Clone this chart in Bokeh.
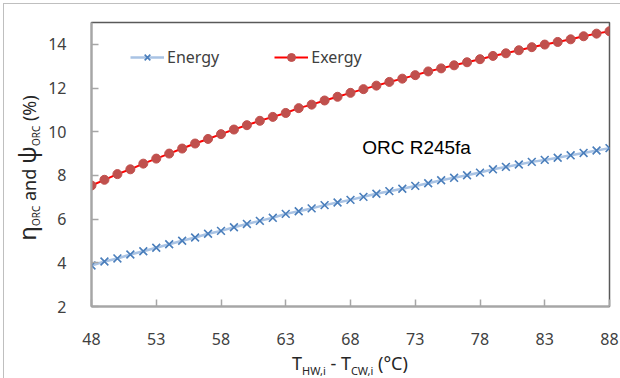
from bokeh.plotting import figure
from bokeh.models import (Range1d, FixedTicker, Legend, LegendItem, Label, Div)
from bokeh.layouts import row, column
from bokeh.embed import file_html
from bokeh.resources import INLINE

# ---------------- data ----------------
dT = list(range(48, 89))  # T_HW,i - T_CW,i (°C)
energy = [3.88, 4.06, 4.20, 4.38, 4.53, 4.69, 4.85, 5.01, 5.16, 5.33,
          5.46, 5.63, 5.78, 5.92, 6.06, 6.24, 6.36, 6.49, 6.64, 6.76,
          6.88, 7.02, 7.16, 7.28, 7.39, 7.52, 7.64, 7.78, 7.89, 8.01,
          8.13, 8.28, 8.39, 8.50, 8.62, 8.71, 8.81, 8.92, 9.03, 9.14, 9.25]
exergy = [7.54, 7.80, 8.06, 8.28, 8.54, 8.77, 9.00, 9.23, 9.46, 9.67,
          9.89, 10.10, 10.30, 10.50, 10.68, 10.86, 11.08, 11.24, 11.43, 11.60,
          11.78, 11.95, 12.11, 12.28, 12.43, 12.59, 12.76, 12.90, 13.04, 13.18,
          13.32, 13.47, 13.59, 13.73, 13.87, 13.99, 14.11, 14.23, 14.37, 14.49, 14.60]
x_ticks = [48, 53, 58, 63, 68, 73, 78, 83, 88]
y_ticks = [2, 4, 6, 8, 10, 12, 14]

FONT = "Noto Sans"
TC = "#262626"

# ---------------- figure ----------------
YDIV_W = 40
PW, PH = 576, 346
p = figure(width=PW, height=PH, output_backend="svg", toolbar_location=None,
           x_range=Range1d(48, 88), y_range=Range1d(2, 15),
           min_border_left=47, min_border_right=11, min_border_top=18,
           min_border_bottom=44, margin=0)
p.background_fill_color = "white"
p.border_fill_color = "white"
p.xgrid.visible = False
p.ygrid.visible = False
p.outline_line_color = "#595959"
p.outline_line_width = 1.5

for ax, ticks in ((p.xaxis[0], x_ticks), (p.yaxis[0], y_ticks)):
    ax.ticker = FixedTicker(ticks=ticks)
    ax.axis_line_color = "#a6a6a6"
    ax.axis_line_width = 2
    ax.major_tick_line_color = "#a6a6a6"
    ax.major_tick_line_width = 1.5
    ax.major_tick_in = 7
    ax.major_tick_out = 0
    ax.minor_tick_line_color = None
    ax.major_label_text_font = FONT
    ax.major_label_text_font_size = "16px"
    ax.major_label_text_color = "#404040"
p.xaxis[0].major_label_standoff = 26
p.yaxis[0].major_label_standoff = 25

# series
e_line = p.line(dT, energy, line_color="#a9c3e4", line_width=2.5)
e_mark = p.scatter(dT, energy, marker="x", size=11, line_color="#4a7ebb",
                   line_width=1.6)
x_line = p.line(dT, exergy, line_color="#ff0000", line_width=2)
x_mark = p.scatter(dT, exergy, marker="circle", size=9, fill_color="#c0504d",
                   line_color="#c0504d")

legend = Legend(items=[LegendItem(label="Energy", renderers=[e_line, e_mark]),
                       LegendItem(label="Exergy", renderers=[x_line, x_mark])],
                orientation="horizontal", location=(39, 238),
                glyph_width=34, glyph_height=20, label_standoff=3,
                spacing=55, padding=0, margin=0,
                border_line_color=None, background_fill_alpha=0,
                label_text_font=FONT, label_text_font_size="16px",
                label_text_color="#404040")
p.add_layout(legend, "center")

# annotation inside the plot
p.add_layout(Label(x=68.9, y=9.28, text="ORC R245fa",
                   text_font="Liberation Sans", text_font_size="19px",
                   text_color="black", text_baseline="alphabetic"))

# ---------------- axis titles as HTML text ----------------
ytitle = Div(
    width=YDIV_W, height=374, margin=0,
    styles={"overflow": "visible"},
    text=(f'<div style="position:absolute; left:24px; top:164px; '
          f'transform:translate(-50%,-50%) rotate(-90deg); white-space:nowrap; '
          f'font-family:\'{FONT}\'; font-size:18px; color:{TC}; line-height:1;">'
          '<span style="font-size:24px">η</span>'
          '<sub style="font-size:10px">ORC</sub> and '
          '<span style="font-size:24px">ψ</span>'
          '<sub style="font-size:10px">ORC</sub> (%)</div>'))

xtitle = Div(
    width=PW, height=28, margin=0,
    styles={"overflow": "visible"},
    text=(f'<div style="position:absolute; left:306px; top:4px; '
          f'transform:translateX(-50%); white-space:nowrap; '
          f'font-family:\'{FONT}\'; font-size:18px; color:{TC}; line-height:1;">'
          'T<sub style="font-size:11px">HW,i</sub> - '
          'T<sub style="font-size:11px">CW,i</sub> (°C)</div>'))

layout = row(ytitle, column(p, xtitle, spacing=0, margin=0), spacing=0)
layout.margin = (3, 0, 0, 3)
layout.styles = {"border-left": "1px solid #bfbfbf",
                 "border-top": "1px solid #bfbfbf"}

open("out.html", "w").write(file_html(layout, INLINE))
